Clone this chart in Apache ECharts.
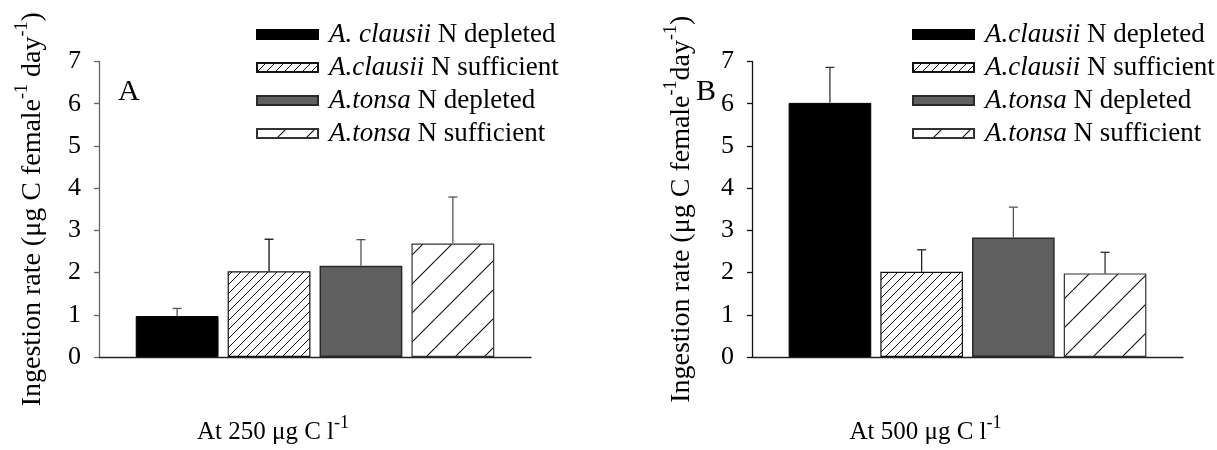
<!DOCTYPE html>
<html>
<head>
<meta charset="utf-8">
<script src="https://cdn.jsdelivr.net/npm/echarts@6/dist/echarts.min.js"></script>
<style>
  html, body { margin: 0; padding: 0; background: #fff; }
  #chart { width: 1217px; height: 450px; }
</style>
</head>
<body>
<div id="chart"></div>
<script>
// Ingestion rates (µg C female^-1 day^-1), mean and upper SD, per treatment
const seriesNamesA = ['A. clausii N depleted', 'A.clausii N sufficient', 'A.tonsa N depleted', 'A.tonsa N sufficient'];
const seriesNamesB = ['A.clausii N depleted', 'A.clausii N sufficient', 'A.tonsa N depleted', 'A.tonsa N sufficient'];
const meansA  = [0.97, 2.03, 2.16, 2.69];
const errorsA = [0.18, 0.76, 0.62, 1.10];
const meansB  = [6.02, 2.02, 2.83, 1.98];
const errorsB = [0.84, 0.52, 0.72, 0.50];
const yMin = 0, yMax = 7, yStep = 1;
const panelLabels = ['A', 'B'];
const concentrations = ['250', '500'];

const FONT = 'Liberation Serif';
const CAT_GAP = 0.17, BAR_GAP = 0.11, N_BARS = 4;

function hatch(size, lw, color) {
  const c = document.createElement('canvas');
  c.width = c.height = size;
  const ctx = c.getContext('2d');
  ctx.fillStyle = '#fff';
  ctx.fillRect(0, 0, size, size);
  ctx.strokeStyle = color;
  ctx.lineWidth = lw;
  ctx.beginPath();
  for (const k of [-size, 0, size]) { ctx.moveTo(k, size); ctx.lineTo(k + size, 0); }
  ctx.stroke();
  return c;
}

const barStyles = [
  { color: '#000', borderColor: '#000', borderWidth: 1 },
  { color: { image: hatch(9, 1, '#111'), repeat: 'repeat' }, borderColor: '#111', borderWidth: 1.2 },
  { color: '#606060', borderColor: '#2a2a2a', borderWidth: 1.5 },
  { color: { image: hatch(29, 1.1, '#111'), repeat: 'repeat' }, borderColor: '#333', borderWidth: 1.2 }
];
const errColorsA = ['#555', '#111', '#555', '#555'];
const errColorsB = ['#333', '#222', '#555', '#333'];

const supY = { fontFamily: FONT, fontSize: 18, lineHeight: 18, verticalAlign: 'top', color: '#000' };
const mainY = { fontFamily: FONT, fontSize: 28, lineHeight: 34, verticalAlign: 'bottom', color: '#000' };
const supX = { fontFamily: FONT, fontSize: 18, lineHeight: 18, verticalAlign: 'top', color: '#000' };
const mainX = { fontFamily: FONT, fontSize: 25, lineHeight: 31, verticalAlign: 'bottom', color: '#000' };

function legendFormatter(name) {
  const k = name.indexOf(' N ');
  return '{i|' + name.slice(0, k) + '}{n|' + name.slice(k) + '}';
}

function makeLegend(names, left) {
  return {
    data: names,
    orient: 'vertical',
    left: left,
    top: 16,
    itemWidth: 61,
    itemHeight: 9,
    itemGap: 6,
    icon: 'rect',
    selectedMode: false,
    formatter: legendFormatter,
    textStyle: {
      fontFamily: FONT, fontSize: 27, color: '#000', padding: [0, 0, 0, 6],
      rich: {
        i: { fontFamily: FONT, fontSize: 27, lineHeight: 28, fontStyle: 'italic', color: '#000' },
        n: { fontFamily: FONT, fontSize: 27, lineHeight: 28, color: '#000' }
      }
    }
  };
}

function yAxis(gridIndex, title, nameGap, lineColor) {
  return {
    type: 'value', gridIndex: gridIndex, min: yMin, max: yMax, interval: yStep,
    name: title, nameLocation: 'middle', nameRotate: 90, nameGap: nameGap,
    nameTextStyle: { rich: { m: mainY, s: supY } },
    axisLine: { show: true, lineStyle: { color: lineColor, width: 1.3 } },
    axisTick: { show: true, inside: false, length: 5, lineStyle: { color: lineColor, width: 1.3 } },
    axisLabel: { fontFamily: FONT, fontSize: 26, color: '#000', margin: 18 },
    splitLine: { show: false }
  };
}

function xAxis(gridIndex, conc) {
  return {
    type: 'category', gridIndex: gridIndex, data: [''],
    name: '{m|At ' + conc + ' μg C l}{s|-1}', nameLocation: 'middle', nameGap: 57,
    nameTextStyle: { rich: { m: mainX, s: supX }, padding: [0, 84, 0, 0] },
    axisLine: { show: true, onZero: false, lineStyle: { color: '#222', width: 1.3 } },
    axisTick: { show: false },
    axisLabel: { show: false },
    splitLine: { show: false }
  };
}

function barSeries(names, means, gridIndex) {
  return names.map((name, i) => ({
    name: name, type: 'bar', xAxisIndex: gridIndex, yAxisIndex: gridIndex,
    barCategoryGap: (CAT_GAP * 100) + '%', barGap: (BAR_GAP * 100) + '%',
    itemStyle: barStyles[i],
    emphasis: { disabled: true },
    data: [means[i]]
  }));
}

function errorSeries(means, errors, gridIndex, colors) {
  return {
    type: 'custom', xAxisIndex: gridIndex, yAxisIndex: gridIndex, z: 3, silent: true,
    encode: { x: 0, y: [1, 2] },
    data: means.map((m, i) => [0, m, m + errors[i], i]),
    renderItem(params, api) {
      const idx = api.value(3);
      const base = api.coord([0, api.value(1)]);
      const top = api.coord([0, api.value(2)]);
      const band = api.size([1, 0])[0];
      const bw = band * (1 - CAT_GAP) / (N_BARS + (N_BARS - 1) * BAR_GAP);
      const x = base[0] + (idx - (N_BARS - 1) / 2) * bw * (1 + BAR_GAP);
      const style = { stroke: colors[idx], lineWidth: 1.3 };
      return {
        type: 'group',
        children: [
          { type: 'line', shape: { x1: x, y1: base[1], x2: x, y2: top[1] }, style },
          { type: 'line', shape: { x1: x - 4.5, y1: top[1], x2: x + 4.5, y2: top[1] }, style }
        ]
      };
    }
  };
}

const chart = echarts.init(document.getElementById('chart'), null, { renderer: 'canvas' });
chart.setOption({
  backgroundColor: '#fff',
  animation: false,
  title: panelLabels.map((t, i) => ({
    text: t, left: i === 0 ? 113 : 691, top: 72,
    textStyle: { fontFamily: FONT, fontSize: 30, fontWeight: 'normal', color: '#000' }
  })),
  legend: [makeLegend(seriesNamesA, 251), makeLegend(seriesNamesB, 907)],
  grid: [
    { left: 99, top: 61.5, width: 432, height: 301 },
    { left: 752, top: 61.5, width: 431, height: 301 }
  ],
  xAxis: [xAxis(0, concentrations[0]), xAxis(1, concentrations[1])],
  yAxis: [
    yAxis(0, '{m|Ingestion rate (μg C female}{s|-1}{m| day}{s|-1}{m|)}', 52, '#666'),
    yAxis(1, '{m|Ingestion rate (μg C female}{s|-1}{m|day}{s|-1}{m|)}', 56, '#111')
  ],
  series: [
    ...barSeries(seriesNamesA, meansA, 0),
    ...barSeries(seriesNamesB, meansB, 1),
    errorSeries(meansA, errorsA, 0, errColorsA),
    errorSeries(meansB, errorsB, 1, errColorsB)
  ]
});
</script>
</body>
</html>
